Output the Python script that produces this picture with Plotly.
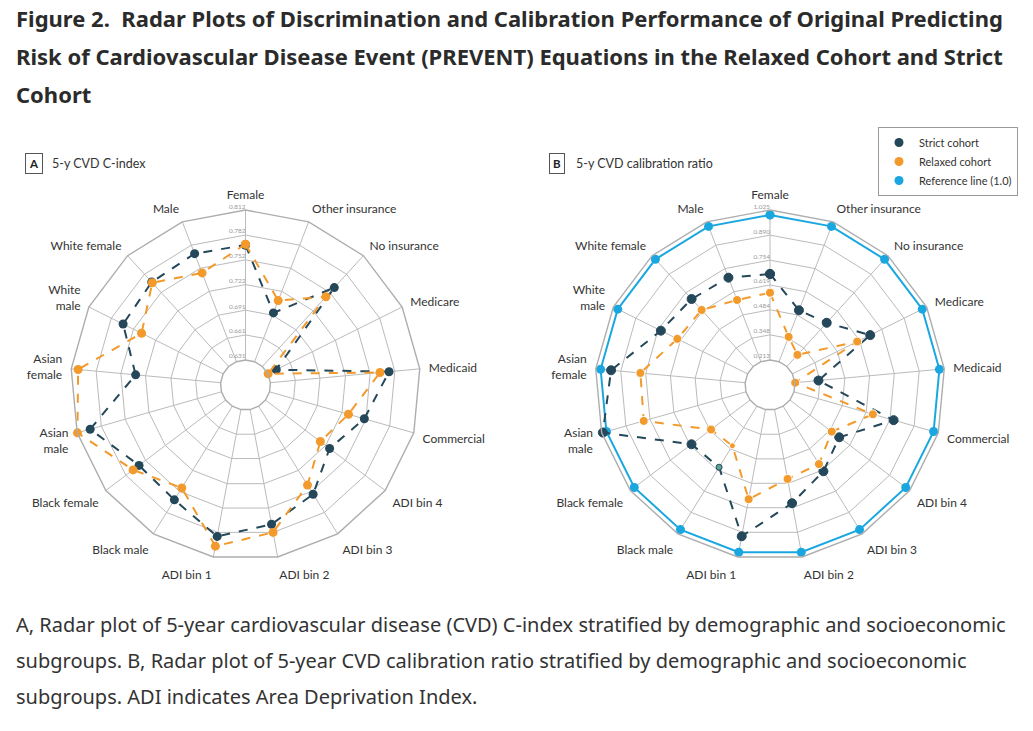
import plotly.graph_objects as go

# subgroups, clockwise from the top
categories = ["Female", "Other insurance", "No insurance", "Medicare", "Medicaid",
              "Commercial", "ADI bin 4", "ADI bin 3", "ADI bin 2", "ADI bin 1",
              "Black male", "Black female", "Asian<br>male", "Asian<br>female",
              "White<br>male", "White female", "Male"]

# A: 5-y CVD C-index
cindex_strict = [0.770, 0.694, 0.760, 0.642, 0.775, 0.750, 0.728, 0.756, 0.772,
                 0.787, 0.764, 0.762, 0.796, 0.734, 0.766, 0.769, 0.771]
cindex_relaxed = [0.771, 0.710, 0.745, 0.631, 0.764, 0.730, 0.714, 0.743, 0.782,
                  0.799, 0.747, 0.771, 0.812, 0.804, 0.741, 0.768, 0.746]
cindex_ticks = ["0.631", "0.661", "0.691", "0.722", "0.752", "0.782", "0.812"]

# B: 5-y CVD calibration ratio
calib_strict = [0.679, 0.511, 0.533, 0.684, 0.340, 0.774, 0.547, 0.627, 0.729,
                0.912, 0.601, 0.610, 1.020, 0.943, 0.738, 0.708, 0.701]
calib_relaxed = [0.577, 0.356, 0.297, 0.605, 0.213, 0.657, 0.496, 0.581, 0.595,
                 0.707, 0.464, 0.477, 0.789, 0.783, 0.638, 0.627, 0.571]
calib_reference = [1.0, 1.0, 1.0, 1.0, 1.0, 1.0, 1.0, 1.0, 1.0,
                   1.0, 1.0, 1.0, 1.0, 1.0, 1.0, 1.0, 1.0]
calib_ticks = ["0.213", "0.348", "0.484", "0.619", "0.754", "0.890", "1.025"]

title_lines = [
    "Figure 2.  Radar Plots of Discrimination and Calibration Performance of Original Predicting",
    "Risk of Cardiovascular Disease Event (PREVENT) Equations in the Relaxed Cohort and Strict",
    "Cohort",
]
caption_lines = [
    "A, Radar plot of 5-year cardiovascular disease (CVD) C-index stratified by demographic and socioeconomic",
    "subgroups. B, Radar plot of 5-year CVD calibration ratio stratified by demographic and socioeconomic",
    "subgroups. ADI indicates Area Deprivation Index.",
]

DARK = "#24485a"
ORANGE = "#f39a2c"
BLUE = "#1aa7df"
GRID = "#bbbbbb"
W, H = 1033, 731


def closed(vals):
    return list(vals) + [vals[0]]


theta = closed(categories)

fig = go.Figure()


def add_ticks(ticks, subplot):
    # radial tick labels sit just above each ring, left of the Female spoke
    fig.add_trace(go.Scatterpolar(
        r=[float(t) for t in ticks], theta=[categories[0]] * len(ticks),
        mode="text", text=ticks, textposition="top left", subplot=subplot,
        showlegend=False, hoverinfo="skip", cliponaxis=False,
        textfont=dict(size=6.5, color="#9a9a9a", family="Lato"),
    ))


def add_series(r, color, name, subplot, dash="dash", sizes=None, colors=None):
    fig.add_trace(go.Scatterpolar(
        r=closed(r), theta=theta, mode="lines+markers", name=name,
        subplot=subplot, showlegend=False, cliponaxis=False,
        line=dict(color=color, width=2, dash=dash),
        marker=dict(size=closed(sizes) if sizes else 9, opacity=1,
                    color=closed(colors) if colors else color),
    ))


# panel A
add_ticks(cindex_ticks, "polar")
add_series(cindex_strict, DARK, "Strict cohort", "polar")
add_series(cindex_relaxed, ORANGE, "Relaxed cohort", "polar")

# panel B (Black male points are drawn smaller in the original)
add_ticks(calib_ticks, "polar2")
small = [6 if c == "Black male" else 9 for c in categories]
strict_cols = ["#5aa596" if c == "Black male" else DARK for c in categories]
add_series(calib_reference, BLUE, "Reference line (1.0)", "polar2", dash="solid")
add_series(calib_strict, DARK, "Strict cohort", "polar2", sizes=small, colors=strict_cols)
add_series(calib_relaxed, ORANGE, "Relaxed cohort", "polar2", sizes=small)

# legend entries as plain dots
for name, color in [("Strict cohort", DARK), ("Relaxed cohort", ORANGE),
                    ("Reference line (1.0)", BLUE)]:
    fig.add_trace(go.Scatterpolar(r=[None], theta=[categories[0]], mode="markers",
                                  name=name, subplot="polar2",
                                  marker=dict(size=9, color=color)))


def polar_layout(cx, ticks):
    R = 175
    cy = H - 385
    vals = [float(t) for t in ticks]
    pad = (vals[-1] - vals[0]) * 0.002
    return dict(
        domain=dict(x=[(cx - R) / W, (cx + R) / W], y=[(cy - R) / H, (cy + R) / H]),
        gridshape="linear",
        hole=25 / R,
        bgcolor="white",
        radialaxis=dict(range=[vals[0] - pad, vals[-1] + pad], tickvals=vals,
                        showticklabels=False, angle=90, showline=False, ticks="",
                        gridcolor=GRID, gridwidth=1.4),
        # invisible ticks push the subgroup names a little away from the frame
        angularaxis=dict(direction="clockwise", rotation=90, ticks="outside",
                         ticklen=6, tickcolor="rgba(0,0,0,0)",
                         gridcolor=GRID, gridwidth=1.4, linecolor="#adadad",
                         linewidth=1.4,
                         tickfont=dict(size=12, color="#333333", family="Lato")),
    )


fig.update_layout(
    width=W, height=H,
    margin=dict(l=0, r=0, t=0, b=0),
    paper_bgcolor="white",
    font=dict(family="Lato", color="#333333"),
    polar=polar_layout(245.5, cindex_ticks),
    polar2=polar_layout(770, calib_ticks),
    legend=dict(x=878 / W, y=1 - 127 / H, xanchor="left", yanchor="top",
                bordercolor="#9a9a9a", borderwidth=1, bgcolor="white",
                font=dict(size=11, color="#333333", family="Lato"),
                itemwidth=30, tracegroupgap=0),
)

ann = []
for i, line in enumerate(title_lines):
    ann.append(dict(text="<b>%s</b>" % line, x=14 / W, y=1 - (18 + 38 * i) / H,
                    font=dict(size=22, family="Noto Sans", color="#2b2b2b")))
for i, line in enumerate(caption_lines):
    ann.append(dict(text=line, x=14 / W, y=1 - (624 + 36 * i) / H,
                    font=dict(size=20, family="Noto Sans", color="#333333")))
for label, text, x0 in [("A", "5-y CVD C-index", 25), ("B", "5-y CVD calibration ratio", 549)]:
    ann.append(dict(text="<b>%s</b>" % label, x=x0 / W, y=1 - 164 / H,
                    bordercolor="#555555", borderwidth=1, borderpad=3,
                    font=dict(size=11.5, family="Lato", color="#222222")))
    ann.append(dict(text=text, x=(x0 + 25) / W, y=1 - 164 / H,
                    font=dict(size=12.5, family="Lato", color="#333333")))
for a in ann:
    a.update(xref="paper", yref="paper", xanchor="left", yanchor="middle",
             showarrow=False)
fig.update_layout(annotations=ann)

fig.write_html("out.html", config={"displayModeBar": False},
               post_script="document.body.style.margin='0';")
